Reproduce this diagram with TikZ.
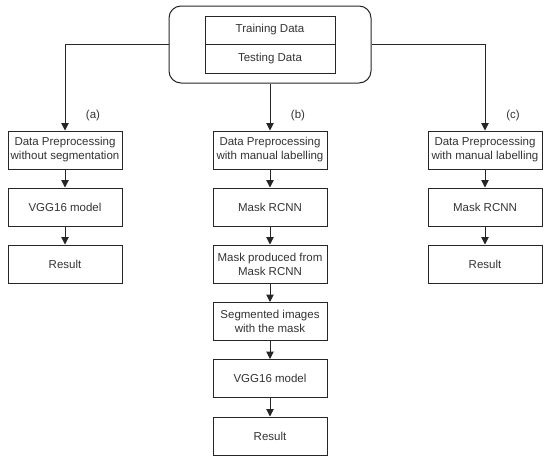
\documentclass[tikz,border=0pt]{standalone}
\usepackage{fontspec}
\setmainfont{Liberation Sans}
\usetikzlibrary{arrows.meta}
\definecolor{txt}{HTML}{333333}
\begin{document}
\begin{tikzpicture}[x=1pt,y=-1pt,
  box/.style={draw=black!85,line width=1pt,minimum width=114pt,minimum height=38pt,inner sep=1pt,align=center,text=txt,font=\fontsize{11.5}{14}\selectfont},
  dbox/.style={draw=black!85,line width=1pt,minimum width=130pt,inner sep=0pt,text=txt,font=\fontsize{11.5}{14}\selectfont},
  arr/.style={draw=black!85,line width=1pt,-{Triangle[width=7.5pt,length=7.5pt]}},
  lbl/.style={text=txt,font=\fontsize{11.5}{14}\selectfont}]
\useasboundingbox (0,0) rectangle (550,461);
\node[draw=black!85,line width=1pt,rounded corners=12pt,minimum width=202pt,minimum height=77pt] (top) at (270,44.5) {};
\node[dbox,minimum height=28pt] (train) at (270,30) {Training Data};
\node[dbox,minimum height=29pt] (test) at (270,58.5) {Testing Data};

\node[box] (a1) at (65,150) {Data Preprocessing\\without segmentation};
\node[box] (a2) at (65,207) {VGG16 model};
\node[box] (a3) at (65,264) {Result};

\node[box] (b1) at (270,150) {Data Preprocessing\\with manual labelling};
\node[box] (b2) at (270,207) {Mask RCNN};
\node[box] (b3) at (270,264) {Mask produced from\\Mask RCNN};
\node[box] (b4) at (270,321.5) {Segmented images\\with the mask};
\node[box] (b5) at (270,378.5) {VGG16 model};
\node[box] (b6) at (270,436) {Result};

\node[box] (c1) at (485,150) {Data Preprocessing\\with manual labelling};
\node[box] (c2) at (485,207) {Mask RCNN};
\node[box] (c3) at (485,264) {Result};

\node[lbl] (la) at (93,116) {(a)};
\node[lbl] (lb) at (298,116) {(b)};
\node[lbl] (lc) at (513,116) {(c)};

\draw[arr] (top.west) -| (a1.north);
\draw[arr] (top.east) -| (c1.north);
\draw[arr] (top.south) -- (b1.north);
\draw[arr] (a1) -- (a2);
\draw[arr] (a2) -- (a3);
\draw[arr] (b1) -- (b2);
\draw[arr] (b2) -- (b3);
\draw[arr] (b3) -- (b4);
\draw[arr] (b4) -- (b5);
\draw[arr] (b5) -- (b6);
\draw[arr] (c1) -- (c2);
\draw[arr] (c2) -- (c3);
\end{tikzpicture}
\end{document}
